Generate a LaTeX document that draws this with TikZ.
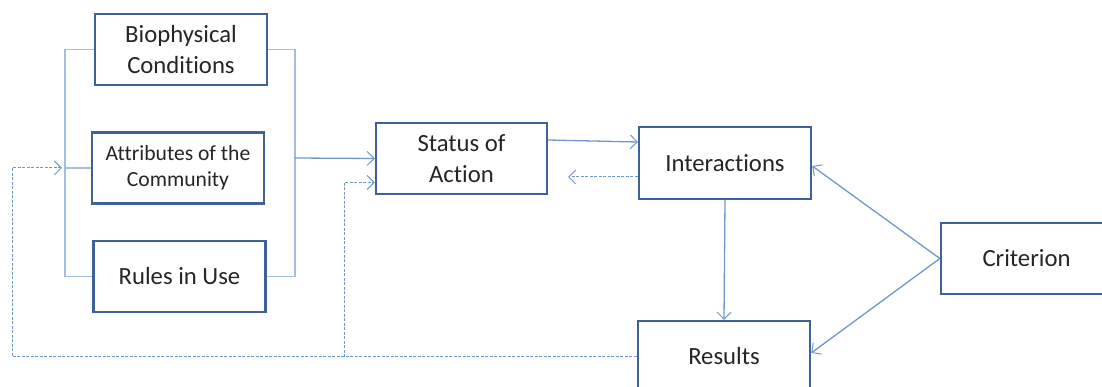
\documentclass[tikz,border=0pt]{standalone}
\usepackage{fontspec}
\setmainfont{Carlito}[Ligatures=NoCommon]
\usetikzlibrary{arrows.meta,calc}
\definecolor{boxedge}{HTML}{3E6297}
\definecolor{link}{HTML}{7097CC}
\definecolor{brace}{HTML}{A3BDE0}
\definecolor{ink}{HTML}{262626}
\tikzset{
  block/.style={draw=boxedge, line width=2.4pt, fill=white, text=ink,
    minimum width=172pt, minimum height=71pt, inner sep=0pt, align=center,
    font=\fontsize{24.7}{31}\selectfont},
  smallblock/.style={block, font=\fontsize{21.6}{26}\selectfont},
  tip/.style={-{Straight Barb[length=7pt,width=14pt,line width=1pt]}},
  flow/.style={draw=link, line width=1.3pt, tip},
  bracket/.style={draw=brace, line width=1.5pt},
  feedback/.style={draw=link, line width=1pt, dash pattern=on 3pt off 1.5pt},
}
\begin{document}
\begin{tikzpicture}[x=1pt, y=-1pt]
\useasboundingbox (0,0) rectangle (1102,387);

% context boxes on the left
\node[block] (bio) at (181,49.5) {Biophysical\\Conditions};
\node[smallblock] (attr) at (178,168) {Attributes of the\\Community};
\node[block] (rules) at (179.5,276.5) {Rules in Use};

% main chain
\node[block, minimum width=171pt] (status) at (461.5,158.5) {Status of\\Action};
\node[block, minimum height=72pt] (inter) at (725,163) {Interactions};
\node[block, minimum width=171pt] (crit) at (1026.5,258.5) {Criterion};
\node[block] (results) at (724,356.5) {Results};

% brackets grouping the three context boxes
\coordinate (lb) at (65,168);
\coordinate (rb) at (295,158);
\draw[bracket] (bio.west) -- (bio.west -| lb) -- (rules.west -| lb) -- (rules.west);
\draw[bracket] (attr.west) -- (lb);
\draw[bracket] (bio.east) -- (bio.east -| rb) -- (rules.east -| rb) -- (rules.east);

% solid flows
\draw[flow] (rb) -- (status.west);
\draw[flow] ([yshift=18.5pt]status.east) -- ([yshift=21pt]inter.west);
\draw[flow] (inter.south) -- (results.north);
\draw[flow] (crit.west) -- ([yshift=-3pt]inter.east);
\draw[flow] (crit.west) -- ([yshift=3.5pt]results.east);

% dashed feedback loops
\coordinate (back) at (568,177);
\draw[feedback, tip] ([yshift=-14pt]inter.west) -- (back);

\coordinate (outer) at (12,357);
\coordinate (lbtip) at (62,168);
\coordinate (branch) at (344,357);
\draw[feedback, tip] (results.west) -- (results.west -| outer) |- (lbtip);
\draw[feedback, tip] (branch) |- ([yshift=-24pt]status.west);
\end{tikzpicture}
\end{document}
